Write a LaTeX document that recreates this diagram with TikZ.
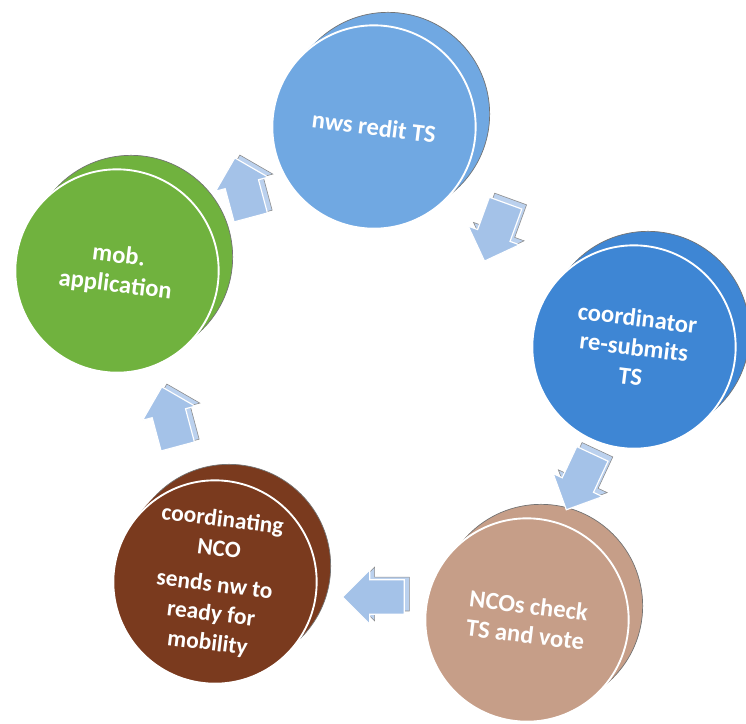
\documentclass[tikz,border=0pt]{standalone}
\usepackage{fontspec}
\setmainfont{Carlito}
\usetikzlibrary{shapes.arrows}

\definecolor{nwsblue}{RGB}{112,168,226}
\definecolor{coordblue}{RGB}{62,134,212}
\definecolor{ncostan}{RGB}{198,158,136}
\definecolor{ncobrown}{RGB}{122,58,30}
\definecolor{mobgreen}{RGB}{112,178,62}
\definecolor{arrowblue}{RGB}{164,194,232}

\begin{document}
\begin{tikzpicture}[
  x=0.03cm, y=-0.03cm,
  discside/.style={circle, minimum size=6.1cm, inner sep=0pt},
  discback/.style={discside, draw=black!55, line width=0.6pt},
  disc/.style={discside, draw=white, line width=1.6pt, text=white, align=center,
    font=\fontsize{21}{25}\selectfont\bfseries, rotate=-7},
  blk/.style={single arrow, single arrow head extend=0.3cm, minimum height=1.85cm,
    inner sep=0.5cm, fill=arrowblue, draw=white, line width=1pt},
  blkback/.style={blk, fill=arrowblue!75, draw=black!45, line width=0.5pt},
]
\useasboundingbox (0,0) rectangle (746,724);

% nws redit TS
\node[discback, fill=nwsblue] (nwsB) at (388,114) {};
\node[discside, fill=nwsblue] (nwsM) at (381,120) {};
\node[disc, fill=nwsblue] (nws) at (374,127) {nws redit TS};

% coordinator
\node[discback, fill=coordblue] (coordB) at (648,333) {};
\node[discside, fill=coordblue] (coordM) at (641,340) {};
\node[disc, fill=coordblue] (coord) at (634,347) {coordinator\\re-submits\\TS};

% NCOs check
\node[discback, fill=ncostan] (ncosB) at (541,606) {};
\node[discside, fill=ncostan] (ncosM) at (534,613) {};
\node[disc, fill=ncostan] (ncos) at (527,620) {NCOs check\\TS and vote};

% coordinating NCO
\node[discback, fill=ncobrown] (ncoB) at (229,566) {};
\node[discside, fill=ncobrown] (ncoM) at (222,573) {};
\node[disc, fill=ncobrown, font=\fontsize{20}{25}\selectfont\bfseries] (nco) at (215,582)
  {coordinating\\NCO\\[6pt]sends nw to\\ready for\\mobility};

% mob. application
\node[discback, fill=mobgreen] (mobB) at (131,257) {};
\node[discside, fill=mobgreen] (mobM) at (124,264) {};
\node[disc, fill=mobgreen] (mob) at (117,271) {mob.\\application};

% block arrows
\node[blkback, rotate=-110] (a1B) at (503,220) {};
\node[blk, rotate=-110] (a1) at (498,224) {};
\node[blkback, rotate=-115] (a2B) at (588,470) {};
\node[blk, rotate=-115] (a2) at (583,474) {};
\node[blkback, rotate=180] (a3B) at (387,594) {};
\node[blk, rotate=180] (a3) at (382,597) {};
\node[blkback, rotate=105] (a4B) at (177,422) {};
\node[blk, rotate=105] (a4) at (172,425) {};
\node[blkback, rotate=105] (a5B) at (250,193) {};
\node[blk, rotate=105] (a5) at (245,196) {};
\end{tikzpicture}
\end{document}
